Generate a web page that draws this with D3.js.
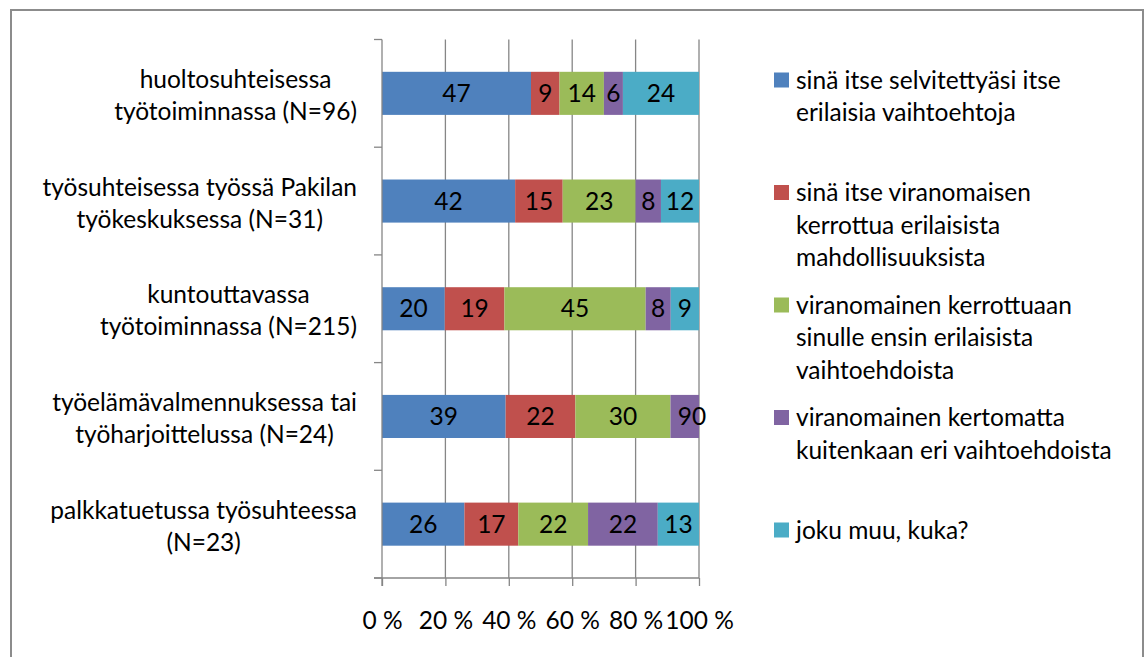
<!DOCTYPE html>
<html>
<head>
<meta charset="utf-8">
<script src="https://cdn.jsdelivr.net/npm/d3@7"></script>
<style>
  body { margin: 0; background: #fff; }
  svg text { font-family: Lato, "Noto Sans", sans-serif; fill: #000; }
</style>
</head>
<body>
<div class="container"></div>
<script>
// categories (top to bottom), each label split into its lines
const categories = [
    ['huoltosuhteisessa', 'työtoiminnassa (N=96)'],
    ['työsuhteisessa työssä Pakilan', 'työkeskuksessa (N=31)'],
    ['kuntouttavassa', 'työtoiminnassa (N=215)'],
    ['työelämävalmennuksessa tai', 'työharjoittelussa (N=24)'],
    ['palkkatuetussa työsuhteessa', '(N=23)']
];

const seriesNames = [
    ['sinä itse selvitettyäsi itse', 'erilaisia vaihtoehtoja'],
    ['sinä itse viranomaisen', 'kerrottua erilaisista', 'mahdollisuuksista'],
    ['viranomainen kerrottuaan', 'sinulle ensin erilaisista', 'vaihtoehdoista'],
    ['viranomainen kertomatta', 'kuitenkaan eri vaihtoehdoista'],
    ['joku muu, kuka?']
];

// values per series, in category order
const selvitettyasi = [47, 42, 20, 39, 26];
const kerrottua     = [9, 15, 19, 22, 17];
const kerrottuaan   = [14, 23, 45, 30, 22];
const kertomatta    = [6, 8, 8, 9, 22];
const jokuMuu       = [24, 12, 9, 0, 13];

const xTicks = [0, 20, 40, 60, 80, 100];
const colors = ['#4F81BD', '#C0504D', '#9BBB59', '#8064A2', '#4BACC6'];

const width = 1144;
const height = 657;
const fontSize = 24.5;
const lineH = 32;

const svg = d3.select('.container')
    .append('svg')
    .attr('width', width)
    .attr('height', height);

// chart frame
svg.append('rect')
    .attr('x', 11).attr('y', 10)
    .attr('width', 1132).attr('height', 680)
    .attr('fill', 'none')
    .attr('stroke', '#8c8c8c')
    .attr('stroke-width', 2);

// 100 % stacked: each row is normalised to its own total
const x = d3.scaleLinear().domain([0, 100]).range([382, 699]);
const y = d3.scaleBand()
    .domain(d3.range(categories.length))
    .range([39.5, 578])
    .paddingInner(0.6)
    .paddingOuter(0.3);

const allSeries = [selvitettyasi, kerrottua, kerrottuaan, kertomatta, jokuMuu];
const rows = categories.map((c, i) => {
    let row = {idx: i};
    allSeries.forEach((s, k) => row['s' + k] = s[i]);
    return row;
});
const keys = allSeries.map((s, k) => 's' + k);
const stacked = d3.stack().keys(keys).offset(d3.stackOffsetExpand)(rows);

//Gridlines
svg.append('g')
    .selectAll('line')
    .data(xTicks.slice(1))
    .enter()
    .append('line')
    .attr('x1', d => x(d)).attr('x2', d => x(d))
    .attr('y1', 39.5).attr('y2', 578)
    .attr('stroke', '#868686')
    .attr('stroke-width', 1.3);

//Bars
const layers = svg.append('g')
    .selectAll('g')
    .data(stacked)
    .enter()
    .append('g')
    .attr('fill', (d, i) => colors[i]);

layers.selectAll('rect')
    .data(d => d)
    .enter()
    .append('rect')
    .attr('x', d => x(d[0] * 100))
    .attr('width', d => x(d[1] * 100) - x(d[0] * 100))
    .attr('y', d => y(d.data.idx))
    .attr('height', y.bandwidth());

//Data labels (raw values)
layers.selectAll('text')
    .data(d => d.map(v => ({v: v, key: d.key})))
    .enter()
    .append('text')
    .attr('x', d => x((d.v[0] + d.v[1]) * 50))
    .attr('y', d => y(d.v.data.idx) + y.bandwidth() / 2)
    .attr('dy', '0.35em')
    .attr('text-anchor', 'middle')
    .attr('font-size', fontSize)
    .text(d => d.v.data[d.key]);

//Axes
const xAxis = d3.axisBottom(x)
    .tickValues(xTicks)
    .tickSize(8)
    .tickFormat(d => d + ' %');

const gx = svg.append('g')
    .attr('transform', 'translate(0,578)')
    .call(xAxis);
gx.select('.domain').remove();
gx.append('line')
    .attr('x1', 374).attr('x2', x(100))
    .attr('stroke', '#868686').attr('stroke-width', 1.3);
gx.selectAll('.tick line').attr('stroke', '#868686').attr('stroke-width', 1.3);
gx.selectAll('.tick text')
    .attr('y', 42)
    .attr('dy', '0.35em')
    .attr('font-size', fontSize)
    .attr('font-family', null)
    .attr('fill', '#000');

// y axis line + ticks at band boundaries
const yEdges = d3.range(categories.length + 1).map(i => 39.5 + i * y.step());
const gy = svg.append('g');
gy.append('line')
    .attr('x1', x(0)).attr('x2', x(0))
    .attr('y1', 39.5).attr('y2', 586)
    .attr('stroke', '#868686').attr('stroke-width', 1.3);
gy.selectAll('.ytick')
    .data(yEdges)
    .enter()
    .append('line')
    .attr('class', 'ytick')
    .attr('x1', 374).attr('x2', x(0))
    .attr('y1', d => d).attr('y2', d => d)
    .attr('stroke', '#868686').attr('stroke-width', 1.3);

//Category labels: lines centred on each other, block right-aligned
const labelRight = 357;
svg.append('g')
    .selectAll('g')
    .data(categories)
    .enter()
    .append('g')
    .each(function(lines, i) {
        const g = d3.select(this);
        const cy = y(i) + y.bandwidth() / 2 + 2;
        const top = cy - (lines.length - 1) * lineH / 2;
        const texts = g.selectAll('text')
            .data(lines)
            .enter()
            .append('text')
            .attr('y', (d, j) => top + j * lineH)
            .attr('dy', '0.35em')
            .attr('text-anchor', 'middle')
            .attr('font-size', fontSize)
            .text(d => d);
        let maxW = 0;
        texts.each(function() { maxW = Math.max(maxW, this.getComputedTextLength()); });
        texts.attr('x', labelRight - maxW / 2);
    });

//Legend
const legend = svg.append('g')
    .selectAll('g')
    .data(seriesNames)
    .enter()
    .append('g')
    .attr('transform', (d, i) => 'translate(774,' + (80 + i * 112.5) + ')');

legend.append('rect')
    .attr('x', 0).attr('y', -7.5)
    .attr('width', 15).attr('height', 15)
    .attr('fill', (d, i) => colors[i]);

legend.selectAll('text')
    .data(d => d)
    .enter()
    .append('text')
    .attr('x', 22)
    .attr('y', (d, j) => j * 32.5)
    .attr('dy', '0.35em')
    .attr('font-size', fontSize)
    .text(d => d);
</script>
</body>
</html>
